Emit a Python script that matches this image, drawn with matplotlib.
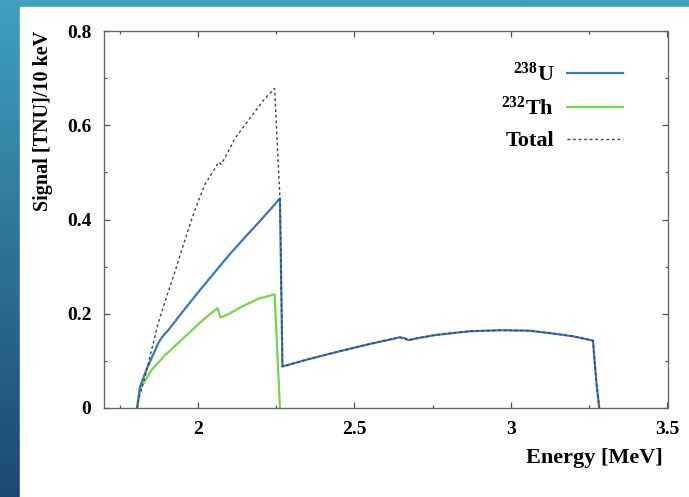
# U / Th signal spectrum above threshold, redrawn from a slide screenshot
import numpy as np
import matplotlib
matplotlib.use("Agg")
import matplotlib.pyplot as plt
from matplotlib.patches import Rectangle
from matplotlib.ticker import MultipleLocator, FixedLocator

# --- data (energy in MeV, signal in TNU/10 keV) ---
u_energy = [1.806, 1.815, 1.836, 1.873, 1.885, 1.895, 1.905, 1.958, 2.0, 2.05,
            2.1, 2.15, 2.2, 2.24, 2.262, 2.270, 2.35, 2.45, 2.55, 2.645,
            2.66, 2.672, 2.7, 2.76, 2.87, 2.97, 3.06, 3.135, 3.2, 3.262,
            3.272, 3.282]
u_signal = [0.0, 0.045, 0.082, 0.137, 0.150, 0.158, 0.165, 0.210, 0.245, 0.285,
            0.325, 0.362, 0.398, 0.428, 0.445, 0.088, 0.103, 0.120, 0.136, 0.150,
            0.148, 0.144, 0.148, 0.155, 0.163, 0.165, 0.164, 0.158, 0.152, 0.143,
            0.060, 0.0]

th_energy = [1.806, 1.812, 1.82, 1.852, 1.895, 1.958, 2.0, 2.022, 2.063, 2.072,
             2.1, 2.14, 2.193, 2.245, 2.262]
th_signal = [0.0, 0.030, 0.045, 0.081, 0.112, 0.151, 0.177, 0.190, 0.212, 0.192,
             0.200, 0.215, 0.232, 0.241, 0.0]

tot_energy = [1.806, 1.81, 1.831, 1.852, 1.873, 1.9, 1.927, 1.948, 1.97, 1.99,
              2.022, 2.054, 2.066, 2.074, 2.09, 2.118, 2.172, 2.214, 2.245, 2.262,
              2.270, 2.35, 2.45, 2.55, 2.645, 2.66, 2.672, 2.7, 2.76, 2.87,
              2.97, 3.06, 3.135, 3.2, 3.262, 3.272, 3.282]
tot_signal = [0.0, 0.017, 0.066, 0.123, 0.180, 0.236, 0.290, 0.335, 0.380, 0.420,
              0.474, 0.508, 0.522, 0.517, 0.535, 0.572, 0.620, 0.657, 0.678, 0.445,
              0.088, 0.103, 0.120, 0.136, 0.150, 0.148, 0.144, 0.148, 0.155, 0.163,
              0.165, 0.164, 0.158, 0.152, 0.143, 0.060, 0.0]

x_ticks = [2, 2.5, 3, 3.5]
x_ticklabels = ["2", "2.5", "3", "3.5"]
y_ticks = [0, 0.2, 0.4, 0.6, 0.8]
y_ticklabels = ["0", "0.2", "0.4", "0.6", "0.8"]

plt.rcParams['font.family'] = ['Liberation Serif', 'DejaVu Serif']
plt.rcParams['font.weight'] = 'bold'
plt.rcParams['mathtext.fontset'] = 'custom'
plt.rcParams['mathtext.rm'] = 'Liberation Serif:bold'
plt.rcParams['mathtext.default'] = 'rm'

fig = plt.figure(figsize=(6.89, 4.97), dpi=100)

# slide background: blue gradient with a white card on top
bg = fig.add_axes([0, 0, 1, 1], zorder=-10)
top_col = np.array([64, 160, 190]) / 255.
bot_col = np.array([28, 72, 112]) / 255.
t = np.linspace(0, 1, 256)[:, None]
grad = (1 - t) * top_col + t * bot_col
bg.imshow(grad[:, None, :], aspect='auto', extent=[0, 1, 0, 1], origin='upper')
bg.add_patch(Rectangle((20 / 689, 0), 1, 1 - 7 / 497, color='white'))
bg.set_xlim(0, 1)
bg.set_ylim(0, 1)
bg.axis('off')

ax = fig.add_axes([104 / 689, 89 / 497, 563.5 / 689, 377 / 497])
ax.set_facecolor('none')

ax.plot(u_energy, u_signal, color='#3a78c4', lw=1.6, label='$^{238}$U', zorder=3)
ax.plot(th_energy, th_signal, color='#78d448', lw=1.6, label='$^{232}$Th', zorder=2)
ax.plot(tot_energy, tot_signal, color='#444444', lw=1.0, ls=(0, (2, 2)),
        label='Total', zorder=4)

ax.set_xlim(1.7, 3.5)
ax.set_ylim(0, 0.8)
ax.xaxis.set_major_locator(FixedLocator(x_ticks))
ax.set_xticklabels(x_ticklabels)
ax.xaxis.set_minor_locator(MultipleLocator(0.25))
ax.yaxis.set_major_locator(FixedLocator(y_ticks))
ax.set_yticklabels(y_ticklabels)
ax.yaxis.set_minor_locator(MultipleLocator(0.1))

ax.tick_params(which='both', direction='in', top=True, right=True,
               colors='#555555', labelcolor='black', labelsize=14, width=0.9)
ax.tick_params(which='major', length=4, pad=9)
ax.tick_params(which='minor', length=2.2)
for s in ax.spines.values():
    s.set_color('#666666')
    s.set_linewidth(1.0)

ax.set_xlabel('Energy [MeV]', fontsize=16, fontweight='bold', loc='right')
ax.xaxis.set_label_coords(0.992, -0.107)
ax.set_ylabel('Signal [TNU]/10 keV', fontsize=14.5, fontweight='bold', loc='top', labelpad=10)

ax.legend(loc='upper right', bbox_to_anchor=(0.921, 0.917), frameon=False,
          markerfirst=False, fontsize=16, handlelength=2.5, handletextpad=0.6,
          labelspacing=0.5, borderpad=0, borderaxespad=0)

fig.savefig('out.png', dpi=100)
